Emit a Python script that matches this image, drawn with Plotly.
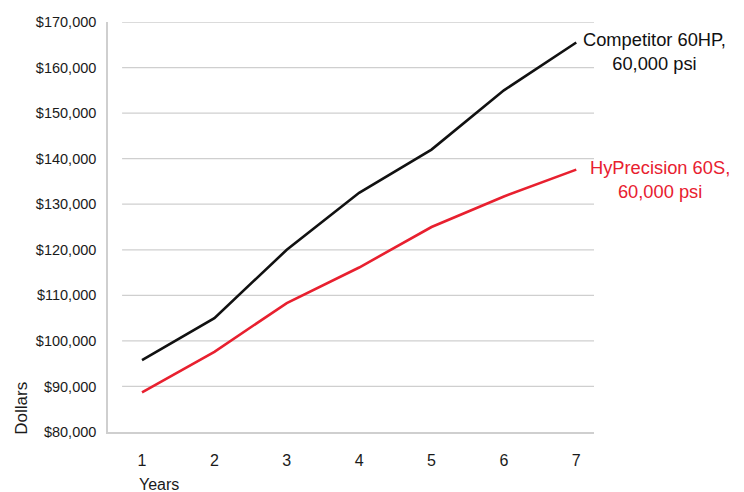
import plotly.graph_objects as go

years = [1, 2, 3, 4, 5, 6, 7]
competitor = [95800, 105000, 120000, 132500, 142000, 155000, 165500]
hyprecision = [88700, 97600, 108300, 116100, 125000, 131700, 137600]
y_ticks = [80000, 90000, 100000, 110000, 120000, 130000, 140000, 150000, 160000, 170000]
y_tick_labels = ["$" + format(v, ",") for v in y_ticks]
competitor_name = "Competitor 60HP,<br>60,000 psi"
hyprecision_name = "HyPrecision 60S,<br>60,000 psi"

BLACK = "#111111"
RED = "#E8202F"
GRID = "#CFCFCF"
FONT = "Liberation Sans, Arial, sans-serif"

fig = go.Figure()
fig.add_trace(go.Scatter(x=years, y=competitor, mode="lines",
                         line=dict(color=BLACK, width=2.6), showlegend=False,
                         name="Competitor 60HP"))
fig.add_trace(go.Scatter(x=years, y=hyprecision, mode="lines",
                         line=dict(color=RED, width=2.6), showlegend=False,
                         name="HyPrecision 60S"))

# gridlines (start slightly right of the y axis line, as in the reference)
for v in y_ticks[1:]:
    fig.add_shape(type="line", xref="paper", yref="y", x0=0.029, x1=1, y0=v, y1=v,
                  line=dict(color=GRID, width=1.3), layer="below")

fig.add_annotation(text=competitor_name, xref="paper", yref="paper", x=1.1255, y=0.927,
                   xanchor="center", yanchor="middle", showarrow=False,
                   font=dict(family=FONT, size=18.3, color=BLACK), align="center")
fig.add_annotation(text=hyprecision_name, xref="paper", yref="paper", x=1.136, y=0.617,
                   xanchor="center", yanchor="middle", showarrow=False,
                   font=dict(family=FONT, size=18.3, color=RED), align="center")
fig.add_annotation(text="Dollars", xref="paper", yref="paper", x=-0.178, y=0.058,
                   xanchor="center", yanchor="middle", textangle=-90, showarrow=False,
                   font=dict(family=FONT, size=17, color="#1a1a1a"))
fig.add_annotation(text="Years", xref="paper", yref="paper", x=0.0603, y=-0.128,
                   xanchor="left", yanchor="middle", showarrow=False,
                   font=dict(family=FONT, size=16, color="#1a1a1a"))

fig.update_layout(
    width=744, height=492,
    margin=dict(l=107.7, r=150.3, t=21.9, b=59.7, autoexpand=False),
    paper_bgcolor="white", plot_bgcolor="white",
    font=dict(family=FONT, color="#1a1a1a"),
    xaxis=dict(range=[0.53, 7.245], tickmode="array", tickvals=years,
               ticktext=[str(y) for y in years], showgrid=False, zeroline=False,
               showline=True, linecolor=GRID, linewidth=1.5, ticks="", automargin=False,
               ticklabelstandoff=13, tickfont=dict(family=FONT, size=16, color="#1a1a1a")),
    yaxis=dict(range=[80000, 170000], tickmode="array", tickvals=y_ticks,
               ticktext=y_tick_labels, showgrid=False, zeroline=False,
               showline=True, linecolor=GRID, linewidth=1.5, ticks="", automargin=False,
               ticklabelstandoff=7,
               tickfont=dict(family=FONT, size=14.5, color="#1a1a1a")),
)

fig.write_html("out.html", config={"displayModeBar": False},
               post_script="document.body.style.margin='0';")
